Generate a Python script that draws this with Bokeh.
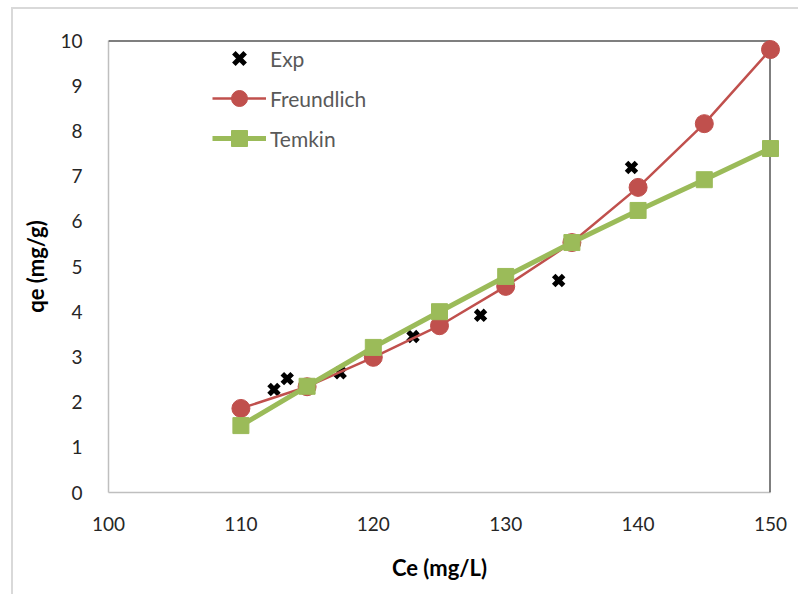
from bokeh.plotting import figure
from bokeh.models import Range1d, Span, Legend, LegendItem, FixedTicker
from bokeh.embed import file_html
from bokeh.resources import INLINE

# Data
exp_x = [112.5, 113.5, 117.5, 123.0, 128.1, 134.0, 139.5]
exp_y = [2.28, 2.52, 2.65, 3.45, 3.92, 4.69, 7.19]

model_x = [110, 115, 120, 125, 130, 135, 140, 145, 150]
freundlich_y = [1.86, 2.34, 2.99, 3.69, 4.56, 5.53, 6.75, 8.16, 9.80]
temkin_y = [1.48, 2.35, 3.21, 4.00, 4.78, 5.53, 6.24, 6.92, 7.61]

x_ticks = [100, 110, 120, 130, 140, 150]
y_ticks = [0, 1, 2, 3, 4, 5, 6, 7, 8, 9, 10]

FONT = "Lato"
RED = "#c0504d"
GREEN = "#9bbb59"

p = figure(width=787, height=587, output_backend="svg", toolbar_location=None,
           x_range=Range1d(100, 150), y_range=Range1d(0, 10),
           min_border_left=95, min_border_right=30, min_border_top=31, min_border_bottom=104)
p.outline_line_color = None
p.grid.visible = False
p.styles = {"margin-left": "11px", "margin-top": "7px",
            "border-left": "2px solid #d9d9d9", "border-top": "2px solid #d9d9d9"}

for ax in (p.xaxis[0], p.yaxis[0]):
    ax.axis_line_color = "#bfbfbf"
    ax.axis_line_width = 1.5
    ax.major_tick_line_color = None
    ax.minor_tick_line_color = None
    ax.major_label_text_font = FONT
    ax.major_label_text_font_size = "19px"
    ax.major_label_text_color = "#262626"
    ax.axis_label_text_font = FONT
    ax.axis_label_text_font_size = "22px"
    ax.axis_label_text_font_style = "bold"
    ax.axis_label_text_color = "#000000"

p.xaxis.ticker = FixedTicker(ticks=x_ticks)
p.yaxis.ticker = FixedTicker(ticks=y_ticks)
p.xaxis.major_label_standoff = 18
p.yaxis.major_label_standoff = 20
p.xaxis.axis_label = "Ce (mg/L)"
p.yaxis.axis_label = "qe (mg/g)"
p.xaxis.axis_label_standoff = 20
p.yaxis.axis_label_standoff = 8

p.add_layout(Span(location=10, dimension="width", line_color="black", line_width=2))
p.add_layout(Span(location=150, dimension="height", line_color="black", line_width=2))

r_exp = p.scatter(exp_x, exp_y, marker="x", size=14, line_width=5, line_color="black")
r_fl = p.line(model_x, freundlich_y, line_color=RED, line_width=2.5, level="overlay")
r_fs = p.scatter(model_x, freundlich_y, marker="circle", size=18, fill_color=RED, line_color=RED, level="overlay")
r_tl = p.line(model_x, temkin_y, line_color=GREEN, line_width=5, level="overlay")
r_ts = p.scatter(model_x, temkin_y, marker="square", size=16, fill_color=GREEN, line_color=GREEN, level="overlay")

legend = Legend(items=[
    LegendItem(label="Exp", renderers=[r_exp]),
    LegendItem(label="Freundlich", renderers=[r_fl, r_fs]),
    LegendItem(label="Temkin", renderers=[r_tl, r_ts]),
], location=(104, 334))
legend.border_line_color = None
legend.background_fill_alpha = 0
legend.padding = 0
legend.margin = 0
legend.spacing = 0
legend.glyph_width = 54
legend.glyph_height = 40
legend.label_standoff = 4
legend.label_text_font = FONT
legend.label_text_font_size = "21px"
legend.label_text_color = "#595959"
p.add_layout(legend)

open("out.html", "w").write(file_html(p, INLINE))
